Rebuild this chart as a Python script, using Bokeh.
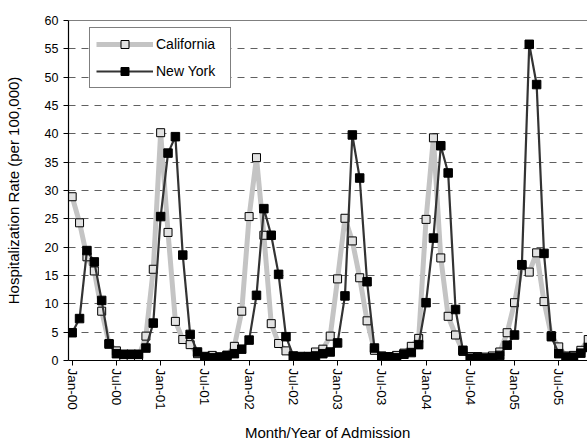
from bokeh.plotting import figure
from bokeh.models import FixedTicker, Span
from bokeh.embed import file_html
from bokeh.resources import INLINE

tick_labels = ["Jan-00", "Jul-00", "Jan-01", "Jul-01", "Jan-02", "Jul-02",
               "Jan-03", "Jul-03", "Jan-04", "Jul-04", "Jan-05", "Jul-05"]
months_per_tick = 6

california = [28.9, 24.3, 18.3, 15.8, 8.7, 3.0, 1.7, 0.6, 0.5, 0.6, 4.3, 16.1,
              40.2, 22.6, 6.9, 3.7, 2.8, 1.2, 0.6, 0.9, 0.6, 0.9, 2.5, 8.7,
              25.4, 35.8, 22.1, 6.5, 3.0, 1.7, 0.7, 0.6, 0.7, 1.5, 2.0, 4.3,
              14.4, 25.1, 21.1, 14.6, 7.0, 1.8, 0.8, 0.7, 0.9, 1.3, 2.5, 3.9,
              24.9, 39.3, 18.1, 7.8, 4.5, 1.6, 0.7, 0.7, 0.6, 0.8, 1.5, 4.9,
              10.2, 16.8, 15.6, 19.0, 10.4, 4.4, 2.4, 0.8, 0.9, 1.8, 3.7]

new_york = [4.9, 7.4, 19.4, 17.4, 10.6, 2.9, 1.2, 1.1, 1.1, 1.1, 2.2, 6.6,
            25.4, 36.6, 39.5, 18.6, 4.6, 1.5, 0.7, 0.5, 0.6, 0.9, 1.2, 2.0,
            3.6, 11.5, 26.8, 22.1, 15.2, 4.2, 0.8, 0.7, 0.7, 0.8, 1.2, 1.5,
            3.1, 11.4, 39.8, 32.2, 13.9, 2.2, 0.7, 0.6, 0.5, 1.1, 1.4, 2.8,
            10.2, 21.6, 37.9, 33.1, 9.0, 1.8, 0.4, 0.5, 0.4, 0.5, 0.9, 2.7,
            4.5, 16.9, 55.8, 48.7, 18.9, 4.2, 1.2, 0.6, 0.6, 1.3, 2.3]

y_max = 60
y_step = 5

# each month sits in the middle of its category slot
x = [m + 0.5 for m in range(len(california))]
tick_pos = [k * months_per_tick + 0.5 for k in range(len(tick_labels))]

FONT = "Liberation Sans"

p = figure(width=587, height=444, output_backend="svg", toolbar_location=None,
           x_range=(0, 70.4), y_range=(0, y_max),
           min_border_left=68, min_border_right=0, min_border_top=20,
           min_border_bottom=84)
p.outline_line_color = None
p.background_fill_color = "white"
p.border_fill_color = "white"

# grid
p.xgrid.visible = False
p.ygrid.grid_line_color = "#606060"
p.ygrid.grid_line_dash = "7 6"
p.ygrid.grid_line_width = 1
p.add_layout(Span(location=y_max, dimension="width", line_color="black",
                  line_width=1.2))

# series
p.line(x, california, line_color="#c4c4c4", line_width=5,
       legend_label="California")
p.scatter(x, california, marker="square", size=8, fill_color="#e2e2e2",
          line_color="black", line_width=1, legend_label="California")
p.line(x, new_york, line_color="#333333", line_width=2.2,
       legend_label="New York")
p.scatter(x, new_york, marker="square", size=8.5, fill_color="black",
          line_color="black", legend_label="New York")

# x axis
xa = p.xaxis[0]
xa.ticker = FixedTicker(ticks=tick_pos)
xa.major_label_overrides = {t: lab for t, lab in zip(tick_pos, tick_labels)}
xa.major_label_orientation = "vertical"
xa.major_tick_out = 5
xa.major_tick_in = 0
xa.minor_tick_line_color = None
xa.major_label_standoff = 3
xa.axis_line_color = "black"
xa.axis_line_width = 1.2
xa.major_tick_line_color = "black"
xa.major_label_text_font = FONT
xa.major_label_text_font_size = "13.5px"
xa.major_label_text_color = "black"
xa.axis_label = "Month/Year of Admission"
xa.axis_label_text_font = FONT
xa.axis_label_text_font_size = "15px"
xa.axis_label_text_font_style = "normal"
xa.axis_label_text_color = "black"
xa.axis_label_standoff = 11

# y axis
ya = p.yaxis[0]
ya.ticker = FixedTicker(ticks=list(range(0, y_max + 1, y_step)))
ya.major_tick_out = 5
ya.major_tick_in = 0
ya.minor_tick_line_color = None
ya.major_label_standoff = 5
ya.axis_line_color = "black"
ya.axis_line_width = 1.2
ya.major_tick_line_color = "black"
ya.major_label_text_font = FONT
ya.major_label_text_font_size = "12.5px"
ya.major_label_text_color = "black"
ya.axis_label = "Hospitalization Rate (per 100,000)"
ya.axis_label_text_font = FONT
ya.axis_label_text_font_size = "15px"
ya.axis_label_text_font_style = "normal"
ya.axis_label_text_color = "black"
ya.axis_label_standoff = 20

# legend
lg = p.legend[0]
lg.location = (21, 272)
lg.margin = 0
lg.padding = 6
lg.spacing = 7
lg.glyph_width = 57
lg.glyph_height = 20
lg.label_height = 20
lg.label_width = 68
lg.label_standoff = 3
lg.border_line_color = "black"
lg.border_line_width = 1
lg.background_fill_color = "white"
lg.background_fill_alpha = 1
lg.label_text_font = FONT
lg.label_text_font_size = "14px"
lg.label_text_color = "black"

open("out.html", "w").write(file_html(p, INLINE))
